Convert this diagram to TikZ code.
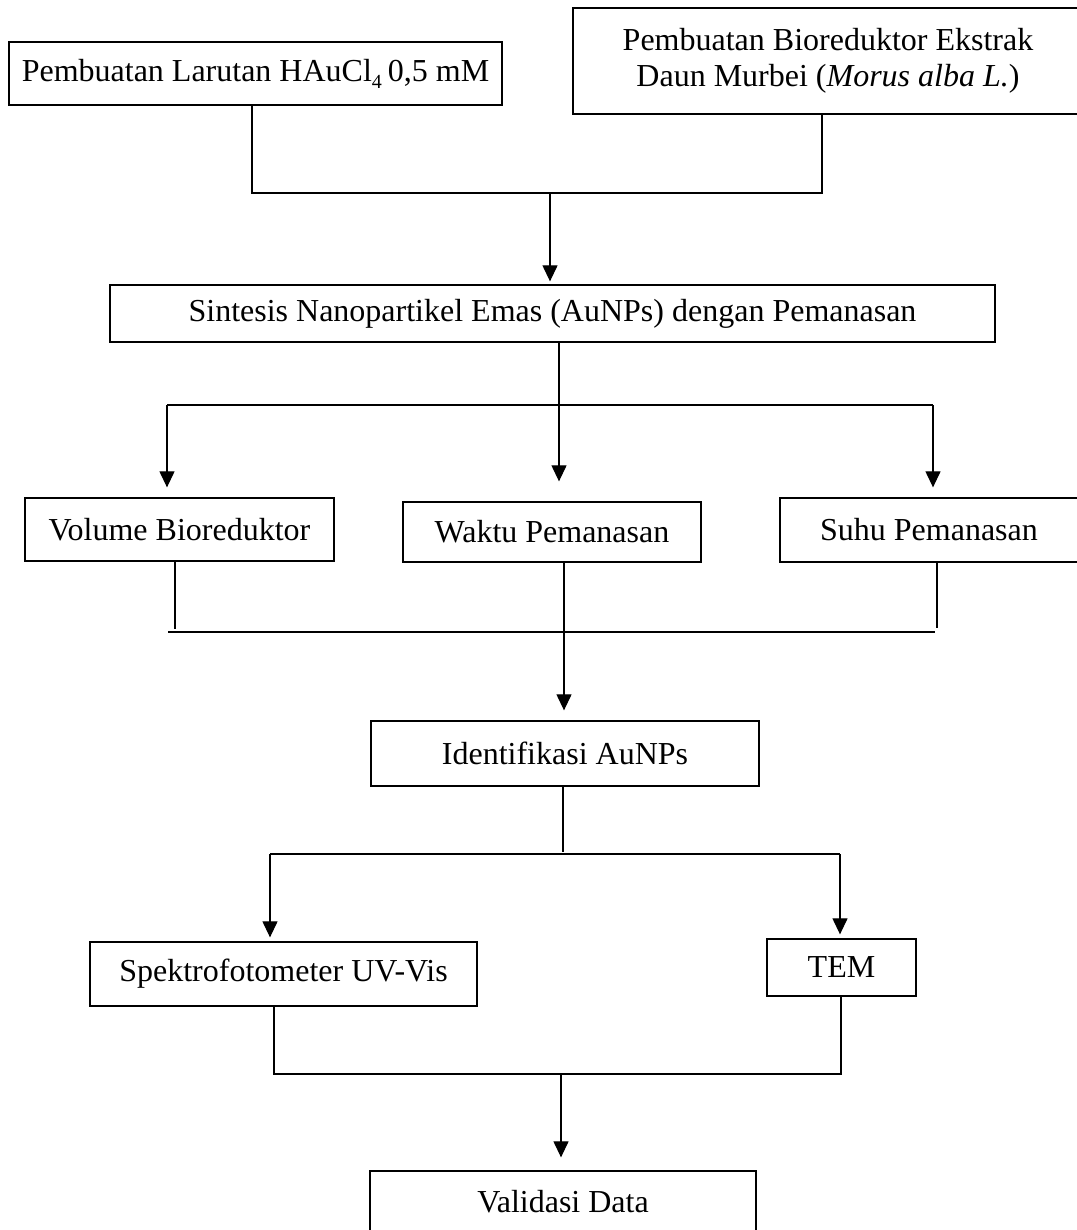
\documentclass[tikz,border=0pt]{standalone}
\usepackage{fontspec}
\setmainfont{Liberation Serif}
\usetikzlibrary{arrows.meta}
\newcommand{\mainsz}{\fontsize{32}{36}\selectfont}
\tikzset{
  box/.style={draw, line width=1.3pt, inner sep=0pt, font=\mainsz, align=center},
  ln/.style={line width=1.2pt},
  arr/.style={line width=1.2pt, -{Triangle[width=15pt,length=16pt]}}
}
\begin{document}
\begin{tikzpicture}[x=1pt,y=-1pt]
\useasboundingbox (0,0) rectangle (1076,1230);
% boxes
\node[box, minimum width=493, minimum height=63] (b1) at (255.5,73.5) {Pembuatan Larutan HAuCl\raisebox{-0.22em}{\fontsize{20}{20}\selectfont 4}\hspace{-2pt} 0,5 mM};
\node[box, minimum width=510, minimum height=106] (b2) at (828,61) {Pembuatan Bioreduktor Ekstrak\\Daun Murbei (\textit{Morus alba L.})};
\node[box, minimum width=885, minimum height=57] (b3) at (552.5,313.5) {Sintesis Nanopartikel Emas (AuNPs) dengan Pemanasan};
\node[box, minimum width=309, minimum height=63] (v) at (179.5,529.5) {Volume Bioreduktor};
\node[box, minimum width=298, minimum height=60] (w) at (552,532) {Waktu Pemanasan};
\node[box, minimum width=298, minimum height=64] (s) at (929,530) {Suhu Pemanasan};
\node[box, minimum width=388, minimum height=65] (id) at (565,753.5) {Identifikasi AuNPs};
\node[box, minimum width=387, minimum height=64] (uv) at (283.5,974) {Spektrofotometer UV-Vis};
\node[box, minimum width=149, minimum height=57] (tem) at (841.5,967.5) {TEM};
\node[box, minimum width=386, minimum height=70] (val) at (563,1206) {\raisebox{-6pt}[0pt][0pt]{Validasi Data}};
% junction coordinates
\coordinate (j1) at (252,193);
\coordinate (j2) at (822,193);
\coordinate (j3) at (550,193);
\coordinate (k0) at (559,405);
\coordinate (kl) at (167,405);
\coordinate (kr) at (933,405);
\coordinate (m1) at (175,629);
\coordinate (m2) at (937,628);
\coordinate (ml) at (168,632);
\coordinate (mr) at (935,632);
\coordinate (mc) at (564,632);
\coordinate (n0) at (563,852);
\coordinate (nl) at (270,854);
\coordinate (nr) at (840,854);
\coordinate (p1) at (274,1074);
\coordinate (p2) at (841,1074);
\coordinate (pc) at (561,1074);
% connectors top
\draw[ln] (b1.south -| j1) -- (j1) -- (j2) -- (b2.south -| j2);
\draw[arr, shorten >=3pt] (j3) -- (b3.north -| j3);
% fan-out from synthesis
\draw[ln] (b3.south -| k0) -- (k0);
\draw[ln] (kl) -- (kr);
\draw[arr, shorten >=10pt] (kl) -- (v.north -| kl);
\draw[arr, shorten >=20pt] (k0) -- (w.north -| k0);
\draw[arr, shorten >=10pt] (kr) -- (s.north -| kr);
% fan-in to identification
\draw[ln] (v.south -| m1) -- (m1);
\draw[ln] (s.south -| m2) -- (m2);
\draw[ln] (ml) -- (mr);
\draw[arr, shorten >=10pt] (w.south -| mc) -- (id.north -| mc);
% identification fan-out
\draw[ln] (id.south -| n0) -- (n0);
\draw[ln] (nl) -- (nr);
\draw[arr, shorten >=4pt] (nl) -- (uv.north -| nl);
\draw[arr, shorten >=4pt] (nr) -- (tem.north -| nr);
% fan-in to validation
\draw[ln] (uv.south -| p1) -- (p1) -- (p2) -- (tem.south -| p2);
\draw[arr, shorten >=13pt] (pc) -- (val.north -| pc);
\end{tikzpicture}
\end{document}
